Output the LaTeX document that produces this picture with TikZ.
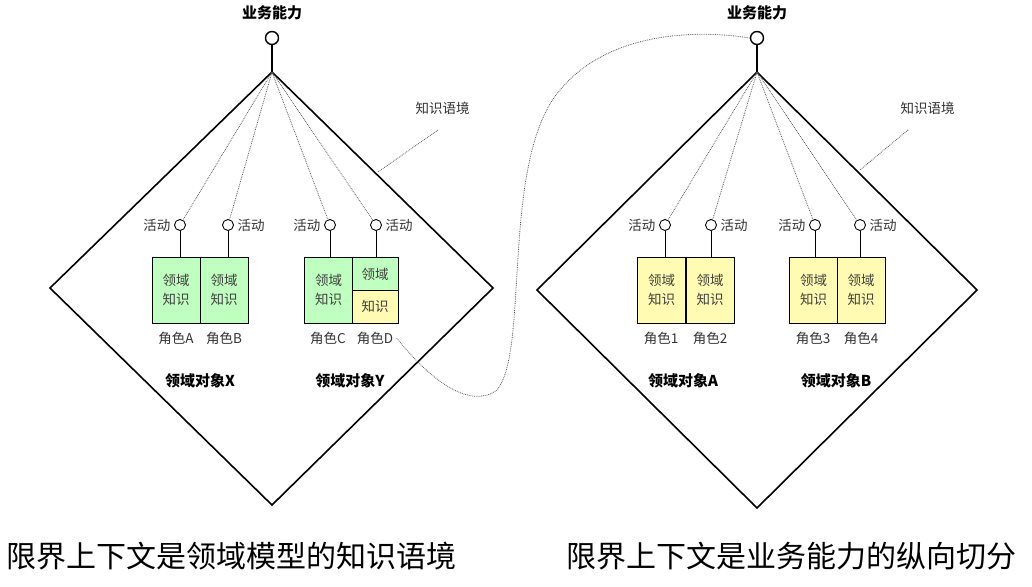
\documentclass[tikz,border=0pt]{standalone}
\usepackage{fontspec}
\setmainfont{Noto Sans CJK SC}
\begin{document}
\begin{tikzpicture}[x=1pt,y=-1pt,
  dia/.style={draw,line width=1.6pt},
  act/.style={circle,draw,line width=0.9pt,minimum size=11pt,inner sep=0pt,fill=white},
  dot/.style={densely dotted,line width=0.8pt,gray!70!black},
  kb/.style={draw,line width=0.9pt,fill=green!25,minimum width=48pt,minimum height=66pt,inner sep=0pt,align=center,font=\fontsize{13.5}{19}\selectfont,text=black!75},
  kby/.style={kb,fill=yellow!30},
  sm/.style={font=\fontsize{13.5}{15}\selectfont,text=black!80},
  md/.style={font=\fontsize{15}{17}\selectfont\bfseries},
  big/.style={font=\fontsize{30}{32}\selectfont,anchor=west}]
\useasboundingbox (0,0) rectangle (1032,586);
\fill[white] (0,0) rectangle (1032,586);
% left
\coordinate (lt) at (272,72);
\draw[dia] (lt) -- (50,288) -- (272,505) -- (493,288) -- cycle;
\node[act,line width=1.4pt,minimum size=13pt] (ltop) at (272,38) {};
\draw[line width=1.2pt] (ltop) -- (lt);
\node[md] at (272,13) {业务能力};
\node[kb] (bA) at (176,290) {领域\\知识};
\node[kb] (bB) at (224,290) {领域\\知识};
\node[kb] (bC) at (328.5,290) {领域\\知识};
\node[kb,minimum width=46pt] (bD) at (375,290) {};
\fill[yellow!30] (352,290) rectangle (398,323);
\draw[line width=0.9pt] (352,257) rectangle (398,323) (352,290) -- (398,290);
\node[font=\fontsize{13.5}{16}\selectfont,text=black!75] at (375,274) {领域};
\node[font=\fontsize{13.5}{16}\selectfont,text=black!75] at (375,306) {知识};
\foreach \n/\x in {a/180,b/228,c/330,d/376}{
  \node[act] (la\n) at (\x,225) {};
  \draw[line width=0.9pt] (la\n) -- (\x,257);
  \draw[dot] (lt) -- (la\n);}
\node[sm,left] at (174,225) {活动};
\node[sm,right] at (234,225) {活动};
\node[sm,left] at (324,225) {活动};
\node[sm,right] at (382,225) {活动};
\node[sm] at (176,338) {角色A};
\node[sm] at (224,338) {角色B};
\node[sm] at (328,338) {角色C};
\node[sm] (rD) at (375,338) {角色D};
\node[md] at (200,381) {领域对象X};
\node[md] at (350,381) {领域对象Y};
\node[sm,anchor=west] (kl) at (412,108) {知识语境};
\draw[dot] (438,130) -- (378,172);
% right
\coordinate (rt) at (757,72);
\draw[dia] (rt) -- (537,290) -- (757,508) -- (977,290) -- cycle;
\node[act,line width=1.4pt,minimum size=13pt] (rtop) at (757,38) {};
\draw[line width=1.2pt] (rtop) -- (rt);
\node[md] at (757,13) {业务能力};
\foreach \n/\x in {1/661.5,2/710,3/813.5,4/861}{
  \node[kby] (k\n) at (\x,290) {领域\\知识};}
\foreach \n/\x in {a/665,b/711,c/815,d/860}{
  \node[act] (ra\n) at (\x,225) {};
  \draw[line width=0.9pt] (ra\n) -- (\x,257);
  \draw[dot] (rt) -- (ra\n);}
\node[sm,left] at (659,225) {活动};
\node[sm,right] at (717,225) {活动};
\node[sm,left] at (809,225) {活动};
\node[sm,right] at (866,225) {活动};
\node[sm] at (661,338) {角色1};
\node[sm] at (710,338) {角色2};
\node[sm] at (813,338) {角色3};
\node[sm] at (861,338) {角色4};
\node[md] at (683,381) {领域对象A};
\node[md] at (836,381) {领域对象B};
\node[sm,anchor=west] at (897,108) {知识语境};
\draw[dot] (908,130) -- (860,170);
% connecting curve
\draw[dot] (rD.east) .. controls (430,380) and (470,410) .. (497,390)
  .. controls (530,350) and (500,160) .. (560,90)
  .. controls (610,30) and (700,30) .. (rtop.west);
\node[big] at (3,556) {限界上下文是领域模型的知识语境};
\node[big] at (563,556) {限界上下文是业务能力的纵向切分};
\end{tikzpicture}
\end{document}
